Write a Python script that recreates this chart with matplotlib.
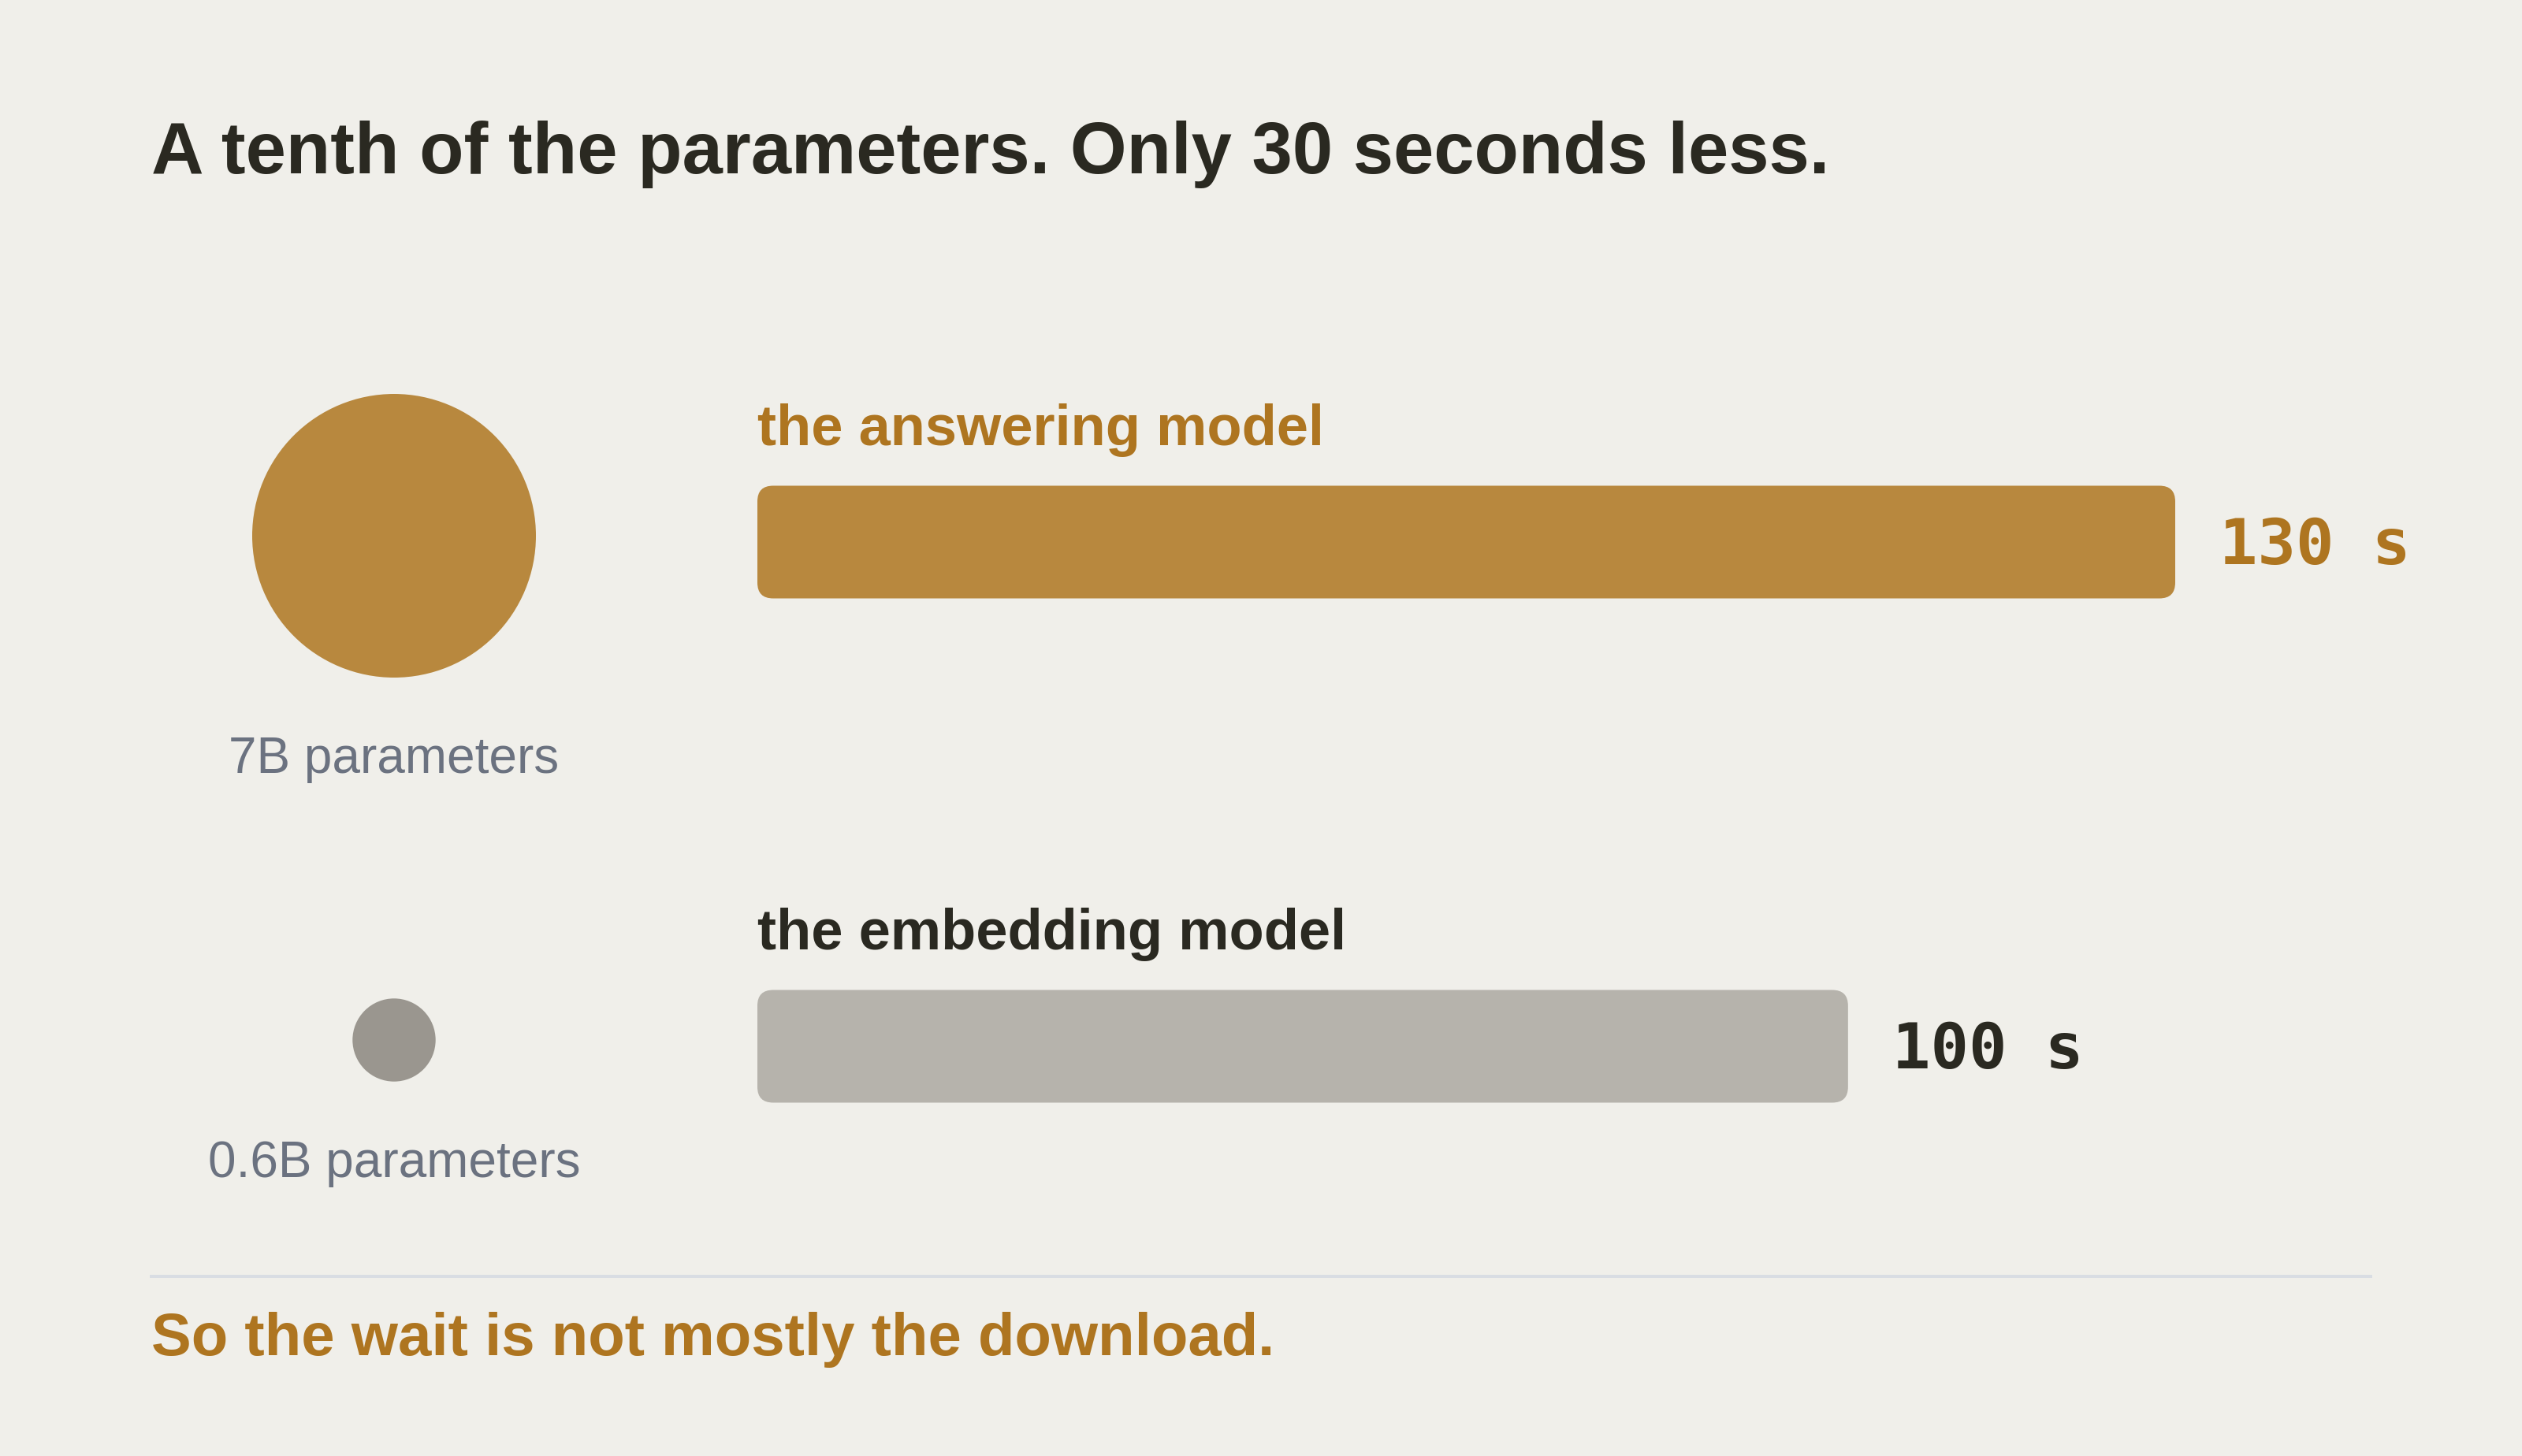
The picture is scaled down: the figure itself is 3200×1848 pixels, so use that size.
import matplotlib
matplotlib.use("Agg")
import matplotlib.pyplot as plt
from matplotlib.patches import FancyBboxPatch
from matplotlib.lines import Line2D
import numpy as np

# ---- data ----
models = ["the answering model", "the embedding model"]
seconds = [130, 100]
params_b = [7, 0.6]
param_labels = ["7B parameters", "0.6B parameters"]
value_labels = ["130 s", "100 s"]
title = "A tenth of the parameters. Only 30 seconds less."
footer = "So the wait is not mostly the download."

# ---- style ----
BG = "#f0efea"
DARK = "#2a2921"
GOLD_TXT = "#ae7520"
GOLD = "#b8883e"
GREY_BAR = "#b6b3ac"
GREY_DOT = "#9a968f"
SLATE = "#6b7280"
RULE = "#d9dde3"
bar_colors = [GOLD, GREY_BAR]
dot_colors = [GOLD, GREY_DOT]
label_colors = [GOLD_TXT, DARK]
value_colors = [GOLD_TXT, DARK]

W, H, DPI = 3200, 1848, 200
px = 72.0 / DPI  # points per pixel

plt.rcParams["font.family"] = ["Liberation Sans", "DejaVu Sans"]
fig = plt.figure(figsize=(W / DPI, H / DPI), dpi=DPI, facecolor=BG)

# bar axes: x=0 at 961 px, max value at 2760 px; rows centred at 688 & 1328 px
x0_px, x1_px = 961, 2760
top_px, bot_px = 368, 1648
ax = fig.add_axes([x0_px / W, 1 - bot_px / H, (x1_px - x0_px) / W, (bot_px - top_px) / H])
ax.set_xlim(0, max(seconds))
ax.set_ylim(len(models) - 0.5, -0.5)
ax.axis("off")
ax.patch.set_alpha(0)

ypos = np.arange(len(models))
bar_h = 143 / 640.0
bars = ax.barh(ypos, seconds, height=bar_h, color=bar_colors)

# replace with rounded versions
x_per_px = max(seconds) / (x1_px - x0_px)
y_per_px = (len(models)) / (bot_px - top_px)
r_px = 20
for rect, c in zip(bars.patches, bar_colors):
    x, y = rect.get_x(), rect.get_y()
    w, h = rect.get_width(), rect.get_height()
    rect.set_visible(False)
    fb = FancyBboxPatch((x, y), w, h,
                        boxstyle=f"round,pad=0,rounding_size={r_px * x_per_px}",
                        mutation_aspect=y_per_px / x_per_px,
                        facecolor=c, edgecolor="none")
    ax.add_patch(fb)

for i, (m, v, vl) in enumerate(zip(models, seconds, value_labels)):
    ax.annotate(m, xy=(0, ypos[i] - bar_h / 2), xytext=(0, 52 * px),
                textcoords="offset points", ha="left", va="baseline",
                fontsize=26, fontweight="bold", color=label_colors[i])
    ax.annotate(vl, xy=(v, ypos[i]), xytext=(56 * px, -28 * px),
                textcoords="offset points", ha="left", va="baseline",
                fontsize=29, fontweight="bold", family="DejaVu Sans Mono",
                color=value_colors[i], annotation_clip=False)

# circle axes (area proportional to parameters), shifted 8px up
cx_px = 500
ax2 = fig.add_axes([(cx_px - 200) / W, 1 - (bot_px - 8) / H, 400 / W, (bot_px - top_px) / H])
ax2.set_xlim(-1, 1)
ax2.set_ylim(len(models) - 0.5, -0.5)
ax2.axis("off")
ax2.patch.set_alpha(0)
r_big_pt = 180 * px
k = (2 * r_big_pt) ** 2 / max(params_b)
sizes = [k * p for p in params_b]
ax2.scatter(np.zeros(len(models)), ypos, s=sizes, c=dot_colors, linewidths=0)
for i, (pl, s) in enumerate(zip(param_labels, sizes)):
    r_pt = np.sqrt(s) / 2
    ax2.annotate(pl, xy=(0, ypos[i]), xytext=(0, -(r_pt + 121 * px)),
                 textcoords="offset points", ha="center", va="baseline",
                 fontsize=23.0, color=SLATE, annotation_clip=False)

# title, rule, footer
fig.text(192 / W, 1 - 220 / H, title, ha="left", va="baseline",
         fontsize=33.2, fontweight="bold", color=DARK)
fig.add_artist(Line2D([192 / W, 3008 / W], [1 - 1620 / H, 1 - 1620 / H],
                      transform=fig.transFigure, color=RULE, linewidth=4 * px))
fig.text(192 / W, 1 - 1720 / H, footer, ha="left", va="baseline",
         fontsize=27.4, fontweight="bold", color=GOLD_TXT)

fig.savefig("out.png", dpi=DPI, facecolor=BG)
